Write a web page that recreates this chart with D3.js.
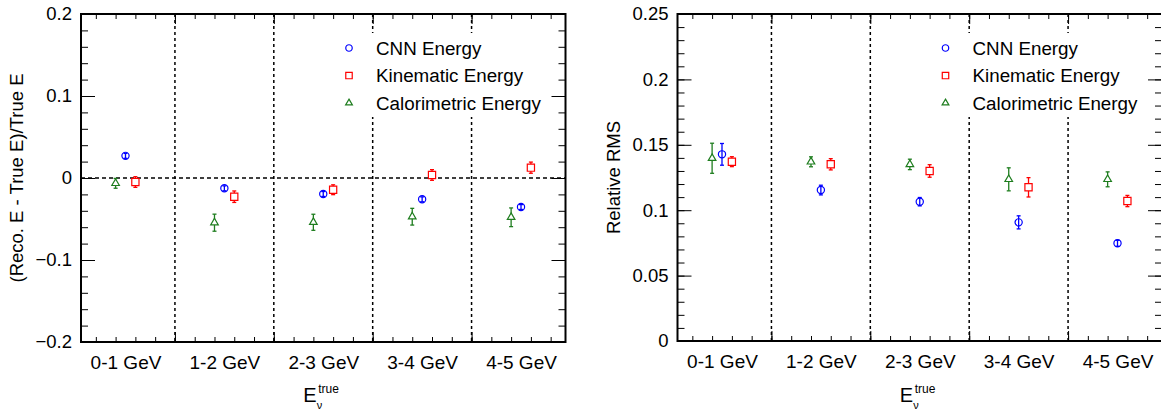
<!DOCTYPE html>
<html>
<head>
<meta charset="utf-8">
<script src="https://cdn.jsdelivr.net/npm/d3@7"></script>
<style>
body { margin: 0; background: #fff; }
text { font-family: "Liberation Sans", Arial, Helvetica, sans-serif; fill: #000; }
</style>
</head>
<body>
<svg id="chart" width="1161" height="410"></svg>
<script>
let bins = ["0-1 GeV", "1-2 GeV", "2-3 GeV", "3-4 GeV", "4-5 GeV"];
let seriesNames = ["CNN Energy", "Kinematic Energy", "Calorimetric Energy"];

// (Reco. E - True E)/True E
let cnnBias = [0.027, -0.0126, -0.0195, -0.026, -0.0354];
let cnnBiasErr = [0.003, 0.003, 0.003, 0.003, 0.003];
let kinBias = [-0.0049, -0.0228, -0.0143, 0.0037, 0.0126];
let kinBiasErr = [0.0065, 0.007, 0.006, 0.0065, 0.0068];
let calBias = [-0.0065, -0.0545, -0.054, -0.0472, -0.0479];
let calBiasErr = [0.006, 0.0104, 0.0098, 0.0102, 0.0114];

// relative RMS
let cnnRms = [0.1427, 0.1154, 0.1065, 0.0907, 0.0747];
let cnnRmsErr = [0.0083, 0.0037, 0.0032, 0.005, 0.0023];
let kinRms = [0.1371, 0.1351, 0.130, 0.1175, 0.107];
let kinRmsErr = [0.0038, 0.0043, 0.0048, 0.0074, 0.0043];
let calRms = [0.1397, 0.137, 0.135, 0.1236, 0.1236];
let calRmsErr = [0.0115, 0.0038, 0.004, 0.0088, 0.0057];

let biasTicks = [-0.2, -0.1, 0, 0.1, 0.2];
let rmsTicks = [0, 0.05, 0.1, 0.15, 0.2, 0.25];

let colors = ["#0000ff", "#ff0000", "#1e7d1e"];
let shapes = [d3.symbolCircle, d3.symbolSquare, d3.symbolTriangle];
let shapeSizes = [41, 52, 25];
let offsets = [0, 0.1, -0.1];

function drawPanel(svg, p) {
    let x = d3.scaleLinear().domain([0.05, 4.95]).range([p.left, p.right]);
    let y = d3.scaleLinear().domain(p.domain).range([p.bottom, p.top]);
    let g = svg.append("g");

    // bin separators
    g.selectAll(".sep").data([1, 2, 3, 4]).join("line")
        .attr("x1", d => x(d)).attr("x2", d => x(d))
        .attr("y1", p.top).attr("y2", p.bottom)
        .attr("stroke", "#000").attr("stroke-width", 1.5)
        .attr("stroke-dasharray", "3,3");
    if (p.zeroLine) {
        g.append("line")
            .attr("x1", p.left).attr("x2", p.right)
            .attr("y1", y(0)).attr("y2", y(0))
            .attr("stroke", "#000").attr("stroke-width", 1.5)
            .attr("stroke-dasharray", "4,3");
    }

    // legend background hides the separators
    g.append("rect")
        .attr("x", p.left + 245).attr("y", 33)
        .attr("width", 228).attr("height", 84)
        .attr("fill", "#fff");

    let fmt = d3.format("~g");
    let minorY = d3.range(p.domain[0], p.domain[1] + 1e-9, p.minor);

    // y axis, ticks pointing inwards
    g.append("g").attr("transform", `translate(${p.left},0)`)
        .call(d3.axisLeft(y).tickValues(minorY).tickSize(-7).tickFormat(""))
        .call(a => a.select(".domain").remove());
    g.append("g").attr("transform", `translate(${p.left},0)`)
        .call(d3.axisLeft(y).tickValues(p.ticks).tickSize(-14).tickPadding(9).tickFormat(fmt))
        .call(a => a.select(".domain").remove())
        .call(a => a.selectAll("text").style("font-size", "18.5px").attr("font-family", null));
    g.append("g").attr("transform", `translate(${p.right},0)`)
        .call(d3.axisRight(y).tickValues(minorY).tickSize(-7).tickFormat(""))
        .call(a => a.select(".domain").remove());
    g.append("g").attr("transform", `translate(${p.right},0)`)
        .call(d3.axisRight(y).tickValues(p.ticks).tickSize(-14).tickFormat(""))
        .call(a => a.select(".domain").remove());

    // x axis ticks, top and bottom
    let minorX = d3.range(0.2, 4.95, 0.2);
    [[p.bottom, d3.axisBottom], [p.top, d3.axisTop]].forEach(([yy, axis]) => {
        g.append("g").attr("transform", `translate(0,${yy})`)
            .call(axis(x).tickValues(minorX).tickSize(-5).tickFormat(""))
            .call(a => a.select(".domain").remove());
        g.append("g").attr("transform", `translate(0,${yy})`)
            .call(axis(x).tickValues([1, 2, 3, 4]).tickSize(-10).tickFormat(""))
            .call(a => a.select(".domain").remove());
    });

    // bin labels
    g.append("g").attr("transform", `translate(0,${p.bottom})`)
        .call(d3.axisBottom(x).tickValues(bins.map((b, i) => i + 0.5))
            .tickSize(0).tickPadding(14).tickFormat((d, i) => bins[i]))
        .call(a => a.select(".domain").remove())
        .call(a => a.selectAll("text").style("font-size", "19px").attr("font-family", null));

    g.selectAll(".tick line").attr("stroke", "#000");

    // frame
    g.append("rect")
        .attr("x", p.left).attr("y", p.top)
        .attr("width", p.right - p.left).attr("height", p.bottom - p.top)
        .attr("fill", "none").attr("stroke", "#000").attr("stroke-width", 2);

    // data points with error bars
    p.series.forEach((s, k) => {
        let pts = s.vals.map((v, i) => ({ x: x(i + 0.5 + offsets[k]), v: v, e: s.errs[i] }));
        let sg = g.append("g").attr("stroke", colors[k]).attr("stroke-width", 1.3);
        sg.selectAll(".bar").data(pts).join("line")
            .attr("x1", d => d.x).attr("x2", d => d.x)
            .attr("y1", d => y(d.v - d.e)).attr("y2", d => y(d.v + d.e));
        sg.selectAll(".capLo").data(pts).join("line")
            .attr("x1", d => d.x - 2).attr("x2", d => d.x + 2)
            .attr("y1", d => y(d.v - d.e)).attr("y2", d => y(d.v - d.e));
        sg.selectAll(".capHi").data(pts).join("line")
            .attr("x1", d => d.x - 2).attr("x2", d => d.x + 2)
            .attr("y1", d => y(d.v + d.e)).attr("y2", d => y(d.v + d.e));
        sg.selectAll(".mark").data(pts).join("path")
            .attr("d", d3.symbol(shapes[k], shapeSizes[k]))
            .attr("transform", d => `translate(${d.x},${y(d.v)})`)
            .attr("fill", k === 0 ? "none" : "#fff")
            .attr("stroke-width", 1.2);
    });

    // legend
    seriesNames.forEach((name, k) => {
        let ly = 48 + k * 27.5;
        g.append("path")
            .attr("d", d3.symbol(shapes[k], shapeSizes[k] * 0.8))
            .attr("transform", `translate(${p.left + 268},${ly})`)
            .attr("fill", "none").attr("stroke", colors[k]).attr("stroke-width", 1.2);
        g.append("text")
            .attr("x", p.left + 295).attr("y", ly + 6.5)
            .style("font-size", "18.8px")
            .text(name);
    });

    // axis titles
    g.append("text")
        .attr("transform", `translate(${p.titleX},${(p.top + p.bottom) / 2}) rotate(-90)`)
        .attr("text-anchor", "middle")
        .style("font-size", "18.5px")
        .text(p.title);
    let cx = (p.left + p.right) / 2;
    g.append("text").attr("x", cx - 20).attr("y", 402).style("font-size", "20px").text("E");
    g.append("text").attr("x", cx - 6.5).attr("y", 409).style("font-size", "11px").text("ν");
    g.append("text").attr("x", cx - 5).attr("y", 393).style("font-size", "12px").text("true");
}

let svg = d3.select("#chart");

drawPanel(svg, {
    left: 81, right: 565.5, top: 14, bottom: 342,
    domain: [-0.2, 0.2], ticks: biasTicks, minor: 0.02,
    zeroLine: true, titleX: 23,
    title: "(Reco. E - True E)/True E",
    series: [
        { vals: cnnBias, errs: cnnBiasErr },
        { vals: kinBias, errs: kinBiasErr },
        { vals: calBias, errs: calBiasErr }
    ]
});

drawPanel(svg, {
    left: 677.5, right: 1162, top: 14, bottom: 341,
    domain: [0, 0.25], ticks: rmsTicks, minor: 0.01,
    zeroLine: false, titleX: 620,
    title: "Relative RMS",
    series: [
        { vals: cnnRms, errs: cnnRmsErr },
        { vals: kinRms, errs: kinRmsErr },
        { vals: calRms, errs: calRmsErr }
    ]
});
</script>
</body>
</html>
